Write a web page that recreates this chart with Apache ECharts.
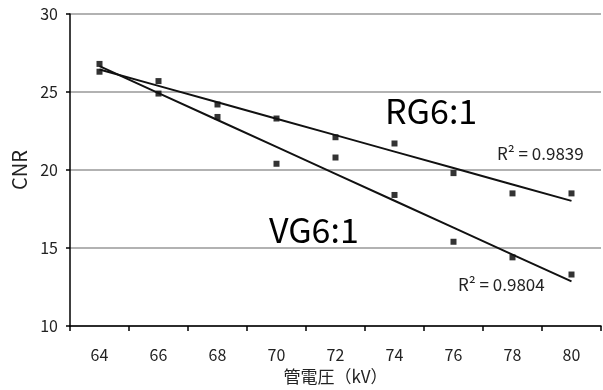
<!DOCTYPE html>
<html>
<head>
<meta charset="utf-8">
<script src="https://cdn.jsdelivr.net/npm/echarts@6/dist/echarts.min.js"></script>
<style>
html, body { margin: 0; padding: 0; background: #fff; }
#chart { width: 603px; height: 390px; }
</style>
</head>
<body>
<div id="chart"></div>
<script>
// 管電圧ごとの CNR
var voltages = ['64', '66', '68', '70', '72', '74', '76', '78', '80'];
var rgValues = [26.3, 25.7, 24.2, 23.3, 22.1, 21.7, 19.8, 18.5, 18.5];
var vgValues = [26.8, 24.9, 23.4, 20.4, 20.8, 18.4, 15.4, 14.4, 13.3];
var yTicks = [10, 15, 20, 25, 30];

// Excel の線形近似と同じ最小二乗
function trend(vals) {
    var n = vals.length, sx = 0, sy = 0, sxy = 0, sxx = 0;
    for (var i = 0; i < n; i++) {
        var x = Number(voltages[i]);
        sx += x; sy += vals[i]; sxy += x * vals[i]; sxx += x * x;
    }
    var b = (n * sxy - sx * sy) / (n * sxx - sx * sx);
    var a = (sy - b * sx) / n;
    return voltages.map(function (v) { return a + b * Number(v); });
}

var font = '"Noto Sans CJK JP", "Noto Sans", sans-serif';
var chart = echarts.init(document.getElementById('chart'));

chart.setOption({
    animation: false,
    textStyle: { fontFamily: font },
    grid: { left: 70, right: 2, top: 14, bottom: 64, containLabel: false, outerBoundsMode: 'none' },
    xAxis: {
        type: 'category',
        data: voltages,
        boundaryGap: true,
        name: '管電圧（kV）',
        nameLocation: 'middle',
        nameGap: 42,
        nameTextStyle: { fontSize: 17, color: '#222', fontFamily: font },
        axisLine: { lineStyle: { color: '#000', width: 1.5 } },
        axisTick: { show: true, alignWithLabel: false, length: 5, lineStyle: { color: '#000', width: 1.5 } },
        axisLabel: { fontSize: 16, color: '#222', margin: 21, fontFamily: font },
        splitLine: { show: false }
    },
    yAxis: {
        type: 'value',
        min: yTicks[0],
        max: yTicks[yTicks.length - 1],
        interval: 5,
        name: 'CNR',
        nameLocation: 'middle',
        nameGap: 37,
        nameTextStyle: { fontSize: 20, color: '#222', fontFamily: font },
        axisLine: { show: true, lineStyle: { color: '#000', width: 1.5 } },
        axisTick: { show: true, length: 4, lineStyle: { color: '#000', width: 1.5 } },
        axisLabel: { fontSize: 16, color: '#222', margin: 12, fontFamily: font },
        splitLine: { show: true, lineStyle: { color: '#999', width: 1.5 } }
    },
    series: [
        {
            name: 'RG6:1',
            type: 'scatter',
            symbol: 'rect',
            symbolSize: 6,
            itemStyle: { color: '#000' },
            data: rgValues
        },
        {
            name: 'VG6:1',
            type: 'scatter',
            symbol: 'rect',
            symbolSize: 6,
            itemStyle: { color: '#000' },
            data: vgValues
        },
        {
            name: 'RG trend',
            type: 'line',
            showSymbol: false,
            lineStyle: { color: '#111', width: 2 },
            data: trend(rgValues)
        },
        {
            name: 'VG trend',
            type: 'line',
            showSymbol: false,
            lineStyle: { color: '#111', width: 2 },
            data: trend(vgValues)
        }
    ],
    graphic: [
        { type: 'text', left: 385, top: 94, style: { text: 'RG6:1', fontSize: 34, fill: '#000', fontFamily: font } },
        { type: 'text', left: 269, top: 213, style: { text: 'VG6:1', fontSize: 34, fill: '#000', fontFamily: font } },
        { type: 'text', left: 497, top: 145, style: { text: 'R² = 0.9839', fontSize: 17, fill: '#222', fontFamily: font } },
        { type: 'text', left: 458, top: 276, style: { text: 'R² = 0.9804', fontSize: 17, fill: '#222', fontFamily: font } }
    ]
});
</script>
</body>
</html>
